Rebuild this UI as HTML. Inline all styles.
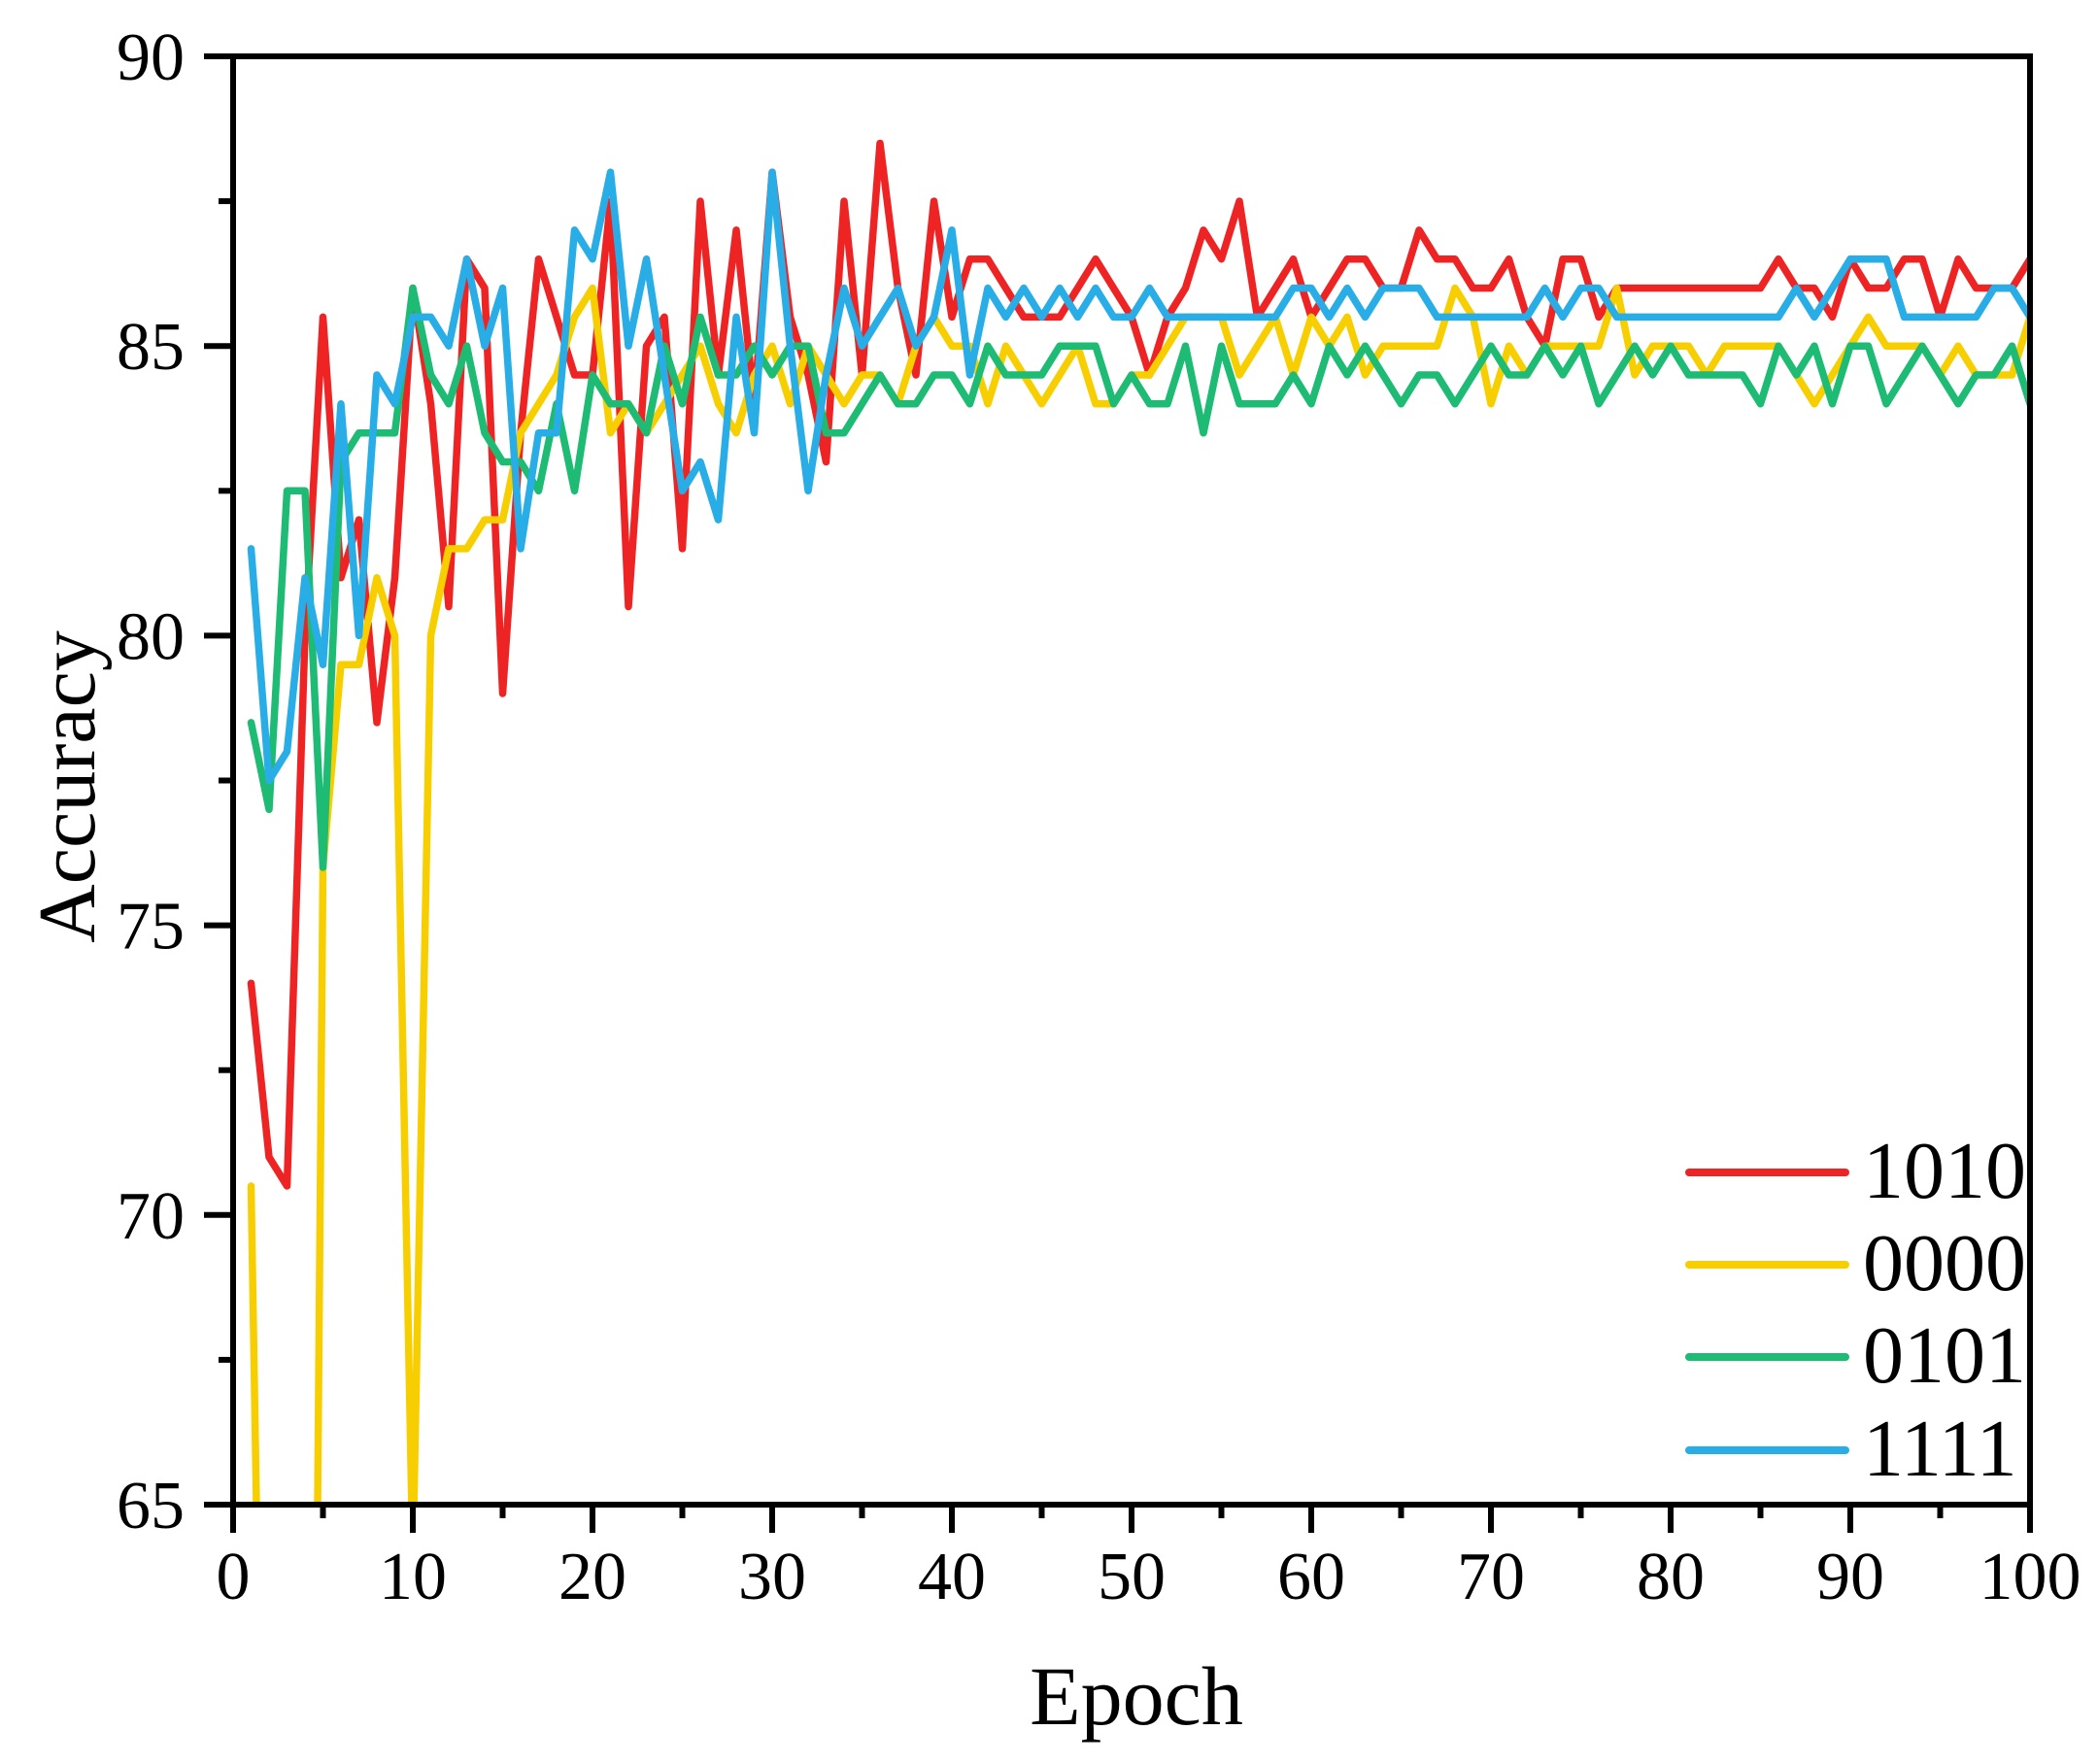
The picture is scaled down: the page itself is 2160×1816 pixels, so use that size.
<!DOCTYPE html>
<html><head><meta charset="utf-8"><style>
html,body{margin:0;padding:0;background:#fff;width:2160px;height:1816px;overflow:hidden;}
svg{display:block;}
text{font-family:"Liberation Serif",serif;fill:#000;}
</style></head><body>
<svg id="s" width="2160" height="1816" viewBox="0 0 2160 1816" xmlns="http://www.w3.org/2000/svg">
<defs><clipPath id="c"><rect x="240" y="58" width="1850" height="1491"/></clipPath></defs>
<g id="series" clip-path="url(#c)" fill="none" stroke-width="7.5" stroke-linejoin="round" stroke-linecap="round"></g>
<g id="axes"></g>
<g stroke-width="8" stroke-linecap="round">
<line x1="1739" y1="1207" x2="1900" y2="1207" stroke="#ee2424"/>
<line x1="1739" y1="1302" x2="1900" y2="1302" stroke="#f7cf00"/>
<line x1="1739" y1="1397" x2="1900" y2="1397" stroke="#1dbb73"/>
<line x1="1739" y1="1493" x2="1900" y2="1493" stroke="#28ade6"/>
</g>
<g font-size="84">
<text x="1918" y="1233">1010</text>
<text x="1918" y="1328">0000</text>
<text x="1918" y="1423">0101</text>
<text x="1918" y="1519">1111</text>
</g>
<text x="1170" y="1775" font-size="86" text-anchor="middle">Epoch</text>
<text transform="translate(97,810) rotate(-90)" font-size="84" text-anchor="middle">Accuracy</text>
</svg>
<script>
const X=e=>240+18.5*e, Y=v=>1549-(v-65)*59.64;
const red=[74,71,70.5,80,85.5,81,82,78.5,81,86,84,80.5,86.5,86,79,83.5,86.5,85.5,84.5,84.5,87.5,80.5,85,85.5,81.5,87.5,84.5,87,84,88,85.5,84.5,83,87.5,84.5,88.5,86,84.5,87.5,85.5,86.5,86.5,86,85.5,85.5,85.5,86,86.5,86,85.5,84.5,85.5,86,87,86.5,87.5,85.5,86,86.5,85.5,86,86.5,86.5,86,86,87,86.5,86.5,86,86,86.5,85.5,85,86.5,86.5,85.5,86,86,86,86,86,86,86,86,86,86.5,86,86,85.5,86.5,86,86,86.5,86.5,85.5,86.5,86,86,86,86.5];
const yel=[70.5,52,40,39,76,79.5,79.5,81,80,64,80,81.5,81.5,82,82,83.5,84,84.5,85.5,86,83.5,84,83.5,84,84.5,85,84,83.5,84.5,85,84,85,84.5,84,84.5,84.5,84,85,85.5,85,85,84,85,84.5,84,84.5,85,84,84,84.5,84.5,85,85.5,85.5,85.5,84.5,85,85.5,84.5,85.5,85,85.5,84.5,85,85,85,85,86,85.5,84,85,84.5,85,85,85,85,86,84.5,85,85,85,84.5,85,85,85,85,84.5,84,84.5,85,85.5,85,85,85,84.5,85,84.5,84.5,84.5,85.5];
const grn=[78.5,77,82.5,82.5,76,83,83.5,83.5,83.5,86,84.5,84,85,83.5,83,83,82.5,84,82.5,84.5,84,84,83.5,85,84,85.5,84.5,84.5,85,84.5,85,85,83.5,83.5,84,84.5,84,84,84.5,84.5,84,85,84.5,84.5,84.5,85,85,85,84,84.5,84,84,85,83.5,85,84,84,84,84.5,84,85,84.5,85,84.5,84,84.5,84.5,84,84.5,85,84.5,84.5,85,84.5,85,84,84.5,85,84.5,85,84.5,84.5,84.5,84.5,84,85,84.5,85,84,85,85,84,84.5,85,84.5,84,84.5,84.5,85,84];
const blu=[81.5,77.5,78,81,79.5,84,80,84.5,84,85.5,85.5,85,86.5,85,86,81.5,83.5,83.5,87,86.5,88,85,86.5,84.5,82.5,83,82,85.5,83.5,88,85,82.5,84.5,86,85,85.5,86,85,85.5,87,84.5,86,85.5,86,85.5,86,85.5,86,85.5,85.5,86,85.5,85.5,85.5,85.5,85.5,85.5,85.5,86,86,85.5,86,85.5,86,86,86,85.5,85.5,85.5,85.5,85.5,85.5,86,85.5,86,86,85.5,85.5,85.5,85.5,85.5,85.5,85.5,85.5,85.5,85.5,86,85.5,86,86.5,86.5,86.5,85.5,85.5,85.5,85.5,85.5,86,86,85.5];
const ns="http://www.w3.org/2000/svg";
const g=document.getElementById('series');
[[red,'#ee2424'],[yel,'#f7cf00'],[grn,'#1dbb73'],[blu,'#28ade6']].forEach(([d,c])=>{
 const p=document.createElementNS(ns,'polyline');
 p.setAttribute('points',d.map((v,i)=>X(i+1).toFixed(1)+','+Y(v).toFixed(1)).join(' '));
 p.setAttribute('stroke',c);g.appendChild(p);});
const a=document.getElementById('axes');let h='';
h+='<rect x="240" y="58" width="1850" height="1491" fill="none" stroke="#000" stroke-width="6"/>';
for(let v=65;v<=90;v+=2.5){const y=Y(v),maj=(v%5===0);h+=`<line x1="${maj?210:225}" y1="${y}" x2="240" y2="${y}" stroke="#000" stroke-width="6"/>`;
 if(maj)h+=`<text x="190" y="${y+24}" font-size="70" text-anchor="end">${v}</text>`;}
for(let e=0;e<=100;e+=5){const x=X(e),maj=(e%10===0);h+=`<line x1="${x}" y1="1549" x2="${x}" y2="${maj?1578:1563}" stroke="#000" stroke-width="6"/>`;
 if(maj)h+=`<text x="${x}" y="1646" font-size="70" text-anchor="middle">${e}</text>`;}
a.innerHTML=h;
</script>
</body></html>
